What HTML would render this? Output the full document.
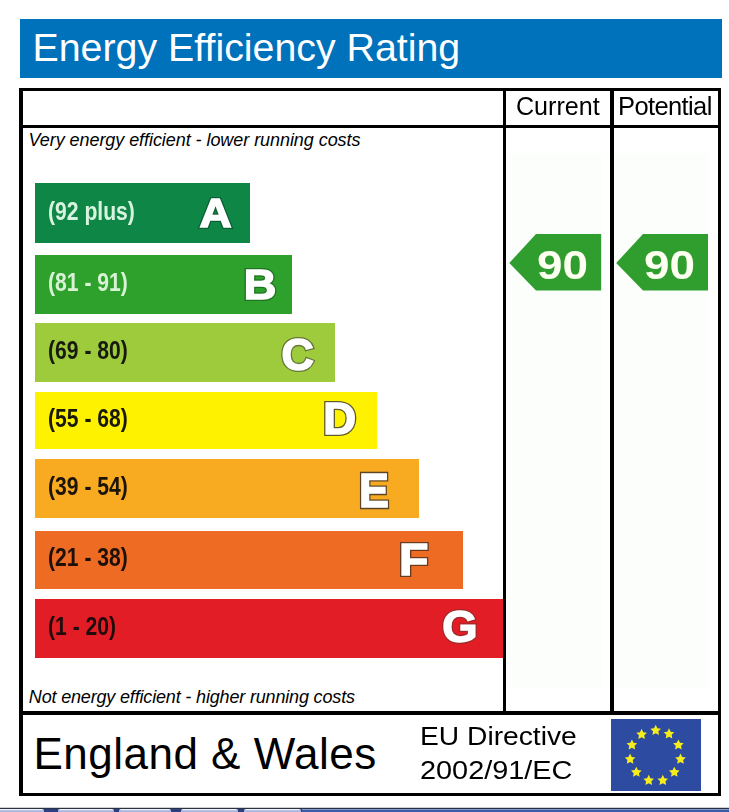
<!DOCTYPE html>
<html><head><meta charset="utf-8">
<style>
html,body{margin:0;padding:0;}
body{width:729px;height:812px;position:relative;overflow:hidden;background:#fff;font-family:"Liberation Sans",sans-serif;color:#000;}
.a{position:absolute;}
.k{position:absolute;background:#000;}
.t{position:absolute;white-space:nowrap;line-height:1;}
.bar{position:absolute;left:35px;filter:blur(0.5px);}
.rng{position:absolute;left:48px;font-weight:bold;font-size:25px;line-height:1;white-space:nowrap;transform-origin:0 0;transform:scaleX(0.845);filter:blur(0.45px);}
</style></head><body>
<!-- title -->
<div class="a" style="left:20px;top:19px;width:702px;height:59px;background:#0071bb;"></div>
<div class="t" id="title" style="left:32.5px;top:28.3px;font-size:39.35px;color:#fff;">Energy Efficiency Rating</div>

<!-- table frame -->
<div class="k" style="left:19px;top:88px;width:702px;height:3px;"></div>
<div class="k" style="left:19px;top:125px;width:702px;height:3px;"></div>
<div class="k" style="left:19px;top:711px;width:702px;height:3.5px;"></div>
<div class="k" style="left:19px;top:793px;width:702px;height:3px;"></div>
<div class="k" style="left:19px;top:88px;width:4px;height:708px;"></div>
<div class="k" style="left:718px;top:88px;width:3px;height:708px;"></div>
<div class="k" style="left:503px;top:88px;width:3px;height:625px;"></div>
<div class="k" style="left:610px;top:88px;width:3.5px;height:625px;"></div>

<div class="t" id="cur" style="left:515.6px;top:93.4px;font-size:26px;transform:scaleX(0.965);transform-origin:0 0;">Current</div>
<div class="t" id="pot" style="left:618.4px;top:93.4px;font-size:26px;letter-spacing:-0.62px;transform:scaleX(0.98);transform-origin:0 0;">Potential</div>

<div class="t" id="very" style="left:28.5px;top:131px;font-size:18px;font-style:italic;letter-spacing:-0.06px;">Very energy efficient - lower running costs</div>
<div class="t" id="not" style="left:28.8px;top:688.4px;font-size:18px;font-style:italic;letter-spacing:-0.167px;">Not energy efficient - higher running costs</div>

<div class="a" style="left:506px;top:153px;width:95px;height:535px;background:#fcfefc;"></div>
<div class="a" style="left:614px;top:153px;width:94px;height:535px;background:#fcfefc;"></div>
<!-- bars -->
<div class="bar" style="top:183px;height:60px;width:215px;background:#0e8746;"></div>
<div class="bar" style="top:255px;height:59px;width:257px;background:#2da12c;"></div>
<div class="bar" style="top:323px;height:59px;width:300px;background:#9dcb3b;"></div>
<div class="bar" style="top:392px;height:57.19999999999999px;width:342px;background:#fff200;"></div>
<div class="bar" style="top:459.2px;height:59.30000000000001px;width:384px;background:#f8aa20;"></div>
<div class="bar" style="top:531px;height:58px;width:427.5px;background:#ee6b23;"></div>
<div class="bar" style="top:598.5px;height:59.0px;width:468px;background:#e31d25;"></div>

<div class="rng" style="top:199.0px;color:#d8f3df;">(92 plus)</div>
<div class="rng" style="top:269.5px;color:#d8f3d4;">(81 - 91)</div>
<div class="rng" style="top:337.8px;color:#181a10;">(69 - 80)</div>
<div class="rng" style="top:405.6px;color:#1a1808;">(55 - 68)</div>
<div class="rng" style="top:473.85px;color:#1c1408;">(39 - 54)</div>
<div class="rng" style="top:545.0px;color:#1c1008;">(21 - 38)</div>
<div class="rng" style="top:614.0px;color:#200c0c;">(1 - 20)</div>

<!-- letters -->
<svg class="a" style="left:0;top:0;filter:blur(0.4px)" width="729" height="812" font-family="Liberation Sans" font-weight="bold" font-size="100" stroke-linejoin="miter" stroke-miterlimit="3">
<g transform="translate(199.39,227.40) scale(0.4442,0.4128)"><text stroke="#0a6033" stroke-width="9.80" fill="#0a6033">A</text><text stroke="#fff" stroke-width="3.73" fill="#fff">A</text></g>
<g transform="translate(243.68,298.80) scale(0.4509,0.4201)"><text stroke="#1e7420" stroke-width="9.64" fill="#1e7420">B</text><text stroke="#fff" stroke-width="3.67" fill="#fff">B</text></g>
<g transform="translate(281.47,370.07) scale(0.4466,0.4407)"><text stroke="#66763a" stroke-width="9.47" fill="#66763a">C</text><text stroke="#fff" stroke-width="3.61" fill="#fff">C</text></g>
<g transform="translate(323.36,434.30) scale(0.4549,0.4375)"><text stroke="#5e5a2a" stroke-width="9.41" fill="#5e5a2a">D</text><text stroke="#fff" stroke-width="3.59" fill="#fff">D</text></g>
<g transform="translate(359.11,507.20) scale(0.4474,0.4797)"><text stroke="#5c4424" stroke-width="9.06" fill="#5c4424">E</text><text stroke="#fff" stroke-width="3.45" fill="#fff">E</text></g>
<g transform="translate(398.88,574.90) scale(0.4810,0.4404)"><text stroke="#6a3a20" stroke-width="9.12" fill="#6a3a20">F</text><text stroke="#fff" stroke-width="3.47" fill="#fff">F</text></g>
<g transform="translate(442.24,641.76) scale(0.4535,0.4449)"><text stroke="#a02a2a" stroke-width="9.35" fill="#a02a2a">G</text><text stroke="#fff" stroke-width="3.56" fill="#fff">G</text></g>
</svg>

<!-- arrows -->
<svg class="a" style="left:0;top:0;filter:blur(0.45px)" width="729" height="812">
<polygon points="509.3,263 536,234 601.2,234 601.2,290.5 536,290.5" fill="#2f9e2e"/>
<polygon points="616.2,263 643,234 708,234 708,290.5 643,290.5" fill="#2f9e2e"/>
<g font-family="Liberation Sans" font-weight="bold" font-size="40" fill="#fdfff0">
<text id="n1" x="537" y="278.5" textLength="51" lengthAdjust="spacingAndGlyphs">90</text>
<text id="n2" x="644" y="278.5" textLength="51" lengthAdjust="spacingAndGlyphs">90</text>
</g>
</svg>

<!-- footer -->
<div class="t" id="eng" style="left:33.4px;top:731.5px;font-size:44px;letter-spacing:0.5px;">England &amp; Wales</div>
<div class="t" id="eu1" style="left:420px;top:722.5px;font-size:26px;transform:scaleX(1.085);transform-origin:0 0;">EU Directive</div>
<div class="t" id="eu2" style="left:420px;top:757px;font-size:26px;transform:scaleX(1.11);transform-origin:0 0;">2002/91/EC</div>

<!-- flag -->
<svg class="a" style="left:611px;top:719px;filter:blur(0.4px)" width="90" height="72" viewBox="611 719 90 72">
<rect x="611" y="719" width="90" height="72" fill="#2c4ba1"/>
<g fill="#f6ee1c"><polygon points="641.60,728.80 643.25,732.13 646.93,732.67 644.26,735.27 644.89,738.93 641.60,737.20 638.31,738.93 638.94,735.27 636.27,732.67 639.95,732.13"/><polygon points="655.70,724.80 657.35,728.13 661.03,728.67 658.36,731.27 658.99,734.93 655.70,733.20 652.41,734.93 653.04,731.27 650.37,728.67 654.05,728.13"/><polygon points="669.00,728.30 670.65,731.63 674.33,732.17 671.66,734.77 672.29,738.43 669.00,736.70 665.71,738.43 666.34,734.77 663.67,732.17 667.35,731.63"/><polygon points="678.40,739.40 680.05,742.73 683.73,743.27 681.06,745.87 681.69,749.53 678.40,747.80 675.11,749.53 675.74,745.87 673.07,743.27 676.75,742.73"/><polygon points="680.50,753.60 682.15,756.93 685.83,757.47 683.16,760.07 683.79,763.73 680.50,762.00 677.21,763.73 677.84,760.07 675.17,757.47 678.85,756.93"/><polygon points="674.30,766.70 675.95,770.03 679.63,770.57 676.96,773.17 677.59,776.83 674.30,775.10 671.01,776.83 671.64,773.17 668.97,770.57 672.65,770.03"/><polygon points="662.80,774.80 664.45,778.13 668.13,778.67 665.46,781.27 666.09,784.93 662.80,783.20 659.51,784.93 660.14,781.27 657.47,778.67 661.15,778.13"/><polygon points="648.70,774.80 650.35,778.13 654.03,778.67 651.36,781.27 651.99,784.93 648.70,783.20 645.41,784.93 646.04,781.27 643.37,778.67 647.05,778.13"/><polygon points="636.30,766.70 637.95,770.03 641.63,770.57 638.96,773.17 639.59,776.83 636.30,775.10 633.01,776.83 633.64,773.17 630.97,770.57 634.65,770.03"/><polygon points="630.10,753.60 631.75,756.93 635.43,757.47 632.76,760.07 633.39,763.73 630.10,762.00 626.81,763.73 627.44,760.07 624.77,757.47 628.45,756.93"/><polygon points="631.90,739.40 633.55,742.73 637.23,743.27 634.56,745.87 635.19,749.53 631.90,747.80 628.61,749.53 629.24,745.87 626.57,743.27 630.25,742.73"/></g>
</svg>

<!-- bottom strip -->
<div class="a" style="left:0;top:807px;width:729px;height:1px;background:#cfd0d4;"></div>
<div class="a" style="left:0;top:808px;width:729px;height:4px;background:#3c5ca6;"></div>
<div class="a" style="left:0;top:808px;width:729px;height:1px;background:#2a3042;"></div>
<div class="a" style="left:0;top:809px;width:729px;height:1px;background:#8299cc;"></div>
<div class="a" style="left:0;top:809px;width:302px;height:3px;background:#2c3f80;"></div>
<div class="a" style="left:0px;top:809px;width:44px;height:3px;border-radius:0 2px 0 0;background:linear-gradient(#f2f5fd 0,#f2f5fd 30%,#b4c2e4 45%,#a3b4dc 100%);"></div>
<div class="a" style="left:57.6px;top:809px;width:56.800000000000004px;height:3px;border-radius:2px 2px 0 0;background:linear-gradient(#f2f5fd 0,#f2f5fd 30%,#b4c2e4 45%,#a3b4dc 100%);"></div>
<div class="a" style="left:119.2px;top:809px;width:52.10000000000001px;height:3px;border-radius:2px 2px 0 0;background:linear-gradient(#f2f5fd 0,#f2f5fd 30%,#b4c2e4 45%,#a3b4dc 100%);"></div>
<div class="a" style="left:181px;top:809px;width:56.69999999999999px;height:3px;border-radius:2px 2px 0 0;background:linear-gradient(#f2f5fd 0,#f2f5fd 30%,#b4c2e4 45%,#a3b4dc 100%);"></div>
<div class="a" style="left:243.9px;top:809px;width:57.099999999999994px;height:3px;border-radius:2px 2px 0 0;background:linear-gradient(#f2f5fd 0,#f2f5fd 30%,#b4c2e4 45%,#a3b4dc 100%);"></div>

</body></html>
